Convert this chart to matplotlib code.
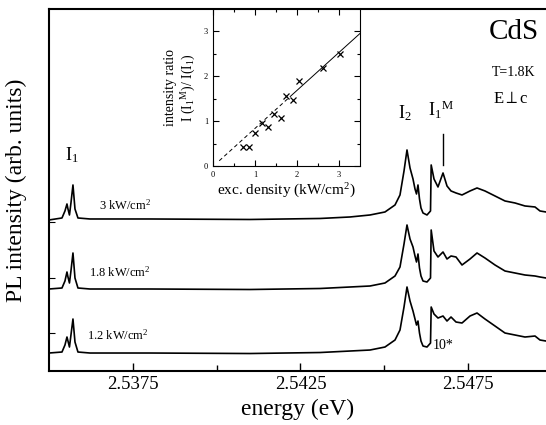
import matplotlib.pyplot as plt
import numpy as np

plt.rcParams['font.family'] = ['Liberation Serif', 'DejaVu Serif']
plt.rcParams['mathtext.fontset'] = 'custom'
plt.rcParams['mathtext.rm'] = 'Liberation Serif'
plt.rcParams['mathtext.it'] = 'Liberation Serif'

# PL spectra (energy in eV, intensity in arb. units, traces already stacked)
energia = [2.534993, 2.535381, 2.535470, 2.535530, 2.535560, 2.535604, 2.535649, 2.535709, 2.535769, 2.535858,
           2.536216, 2.538007, 2.540993, 2.543082, 2.543978, 2.544575, 2.545022, 2.545321, 2.545470, 2.545590,
           2.545679, 2.545769, 2.545858, 2.545918, 2.545963, 2.546007, 2.546052, 2.546097, 2.546157, 2.546276,
           2.546381, 2.546401, 2.546485, 2.546604, 2.546754, 2.546873, 2.546993, 2.547142, 2.547321, 2.547560,
           2.547769, 2.548007, 2.548306, 2.548604, 2.548903, 2.549201, 2.549500, 2.549649, 2.549828]

pl_3kw = [151, 153, 160, 167, 162, 156, 168, 186, 162, 153,
          152, 152, 151.5, 152.5, 154, 156, 159, 166, 176, 200,
          221, 203, 192, 182, 177, 186, 172, 163, 158, 156,
          160, 206, 192, 184, 198, 185, 180, 178, 176, 180,
          183, 180, 175, 170, 168, 165, 164, 160, 159]

pl_18kw = [82, 83, 90, 99, 94, 88, 100, 118, 93, 83,
           82, 82, 81.5, 82.5, 84, 85, 88, 95, 104, 127,
           146, 132, 124, 115, 109, 117, 103, 95, 90, 89,
           93, 141, 120, 114, 119, 112, 115, 114, 106, 112,
           118, 113, 106, 100, 98, 96, 95, 94, 93]

pl_12kw = [18, 19, 26, 34, 30, 24, 36, 52, 29, 19,
           18, 18, 17.5, 18.5, 20, 21, 24, 31, 41, 64,
           84, 70, 60, 52, 46, 50, 38, 30, 25, 24,
           28, 64, 57, 53, 55, 50, 54, 49, 48, 55,
           58, 52, 45, 38, 36, 34, 35, 31, 30]

# inset: intensity ratio vs excitation density
densidade = [0.71, 0.86, 1.0, 1.17, 1.31, 1.46, 1.61, 1.75, 1.91, 2.06, 2.62, 3.02]
razao = [0.43, 0.43, 0.73, 0.97, 0.88, 1.17, 1.08, 1.57, 1.47, 1.89, 2.19, 2.49]
ajuste_x = [0.15, 1.9, 3.5]
ajuste_y = [0.12, 1.6, 2.95]

fig = plt.figure(figsize=(5.46, 4.25), dpi=100)
ax = fig.add_axes([0.0897, 0.127, 0.9103, 0.852])

for pl in [pl_3kw, pl_18kw, pl_12kw]:
    ax.plot(energia, pl, color='black', lw=1.2)

ax.set_xlim(2.534993, 2.549828)
ax.set_ylim(0, 362)
ax.set_xticks([2.5375, 2.5425, 2.5475])
ax.set_xticklabels(['2.5375', '2.5425', '2.5475'])
ax.set_xticks([2.540, 2.545], minor=True)
ax.set_yticks([38, 93, 149])
ax.set_yticklabels([])
ax.tick_params(axis='x', which='major', direction='in', length=6, width=1, labelsize=13.5)
ax.tick_params(axis='y', which='major', direction='in', length=4, width=0.8)
ax.tick_params(axis='both', which='minor', direction='in', length=4, width=1)
ax.spines['right'].set_visible(False)
for s in ['left', 'bottom', 'top']:
    ax.spines[s].set_linewidth(1.5)
ax.set_xlabel('energy (eV)', fontsize=17, labelpad=4)
ax.set_ylabel('PL intensity (arb. units)', fontsize=17, labelpad=12)

# labels
ax.text(2.53568, 216, r'I$_1$', fontsize=13, ha='center', va='center')
ax.text(2.54562, 258, r'I$_2$', fontsize=13, ha='center', va='center')
ax.text(2.54670, 261, r'I$_1$$^{\rm M}$', fontsize=13, ha='center', va='center')
ax.plot([2.546754, 2.546754], [206, 237], color='black', lw=1)
ax.text(2.53726, 166, r'3 kW/cm$^2$', fontsize=9, ha='center', va='center')
ax.text(2.53711, 99, r'1.8 kW/cm$^2$', fontsize=9, ha='center', va='center')
ax.text(2.53705, 36, r'1.2 kW/cm$^2$', fontsize=9, ha='center', va='center')
ax.text(2.54646, 26, '10*', fontsize=10, ha='left', va='center')
ax.text(0.935, 0.935, 'CdS', fontsize=21, ha='center', va='center', transform=ax.transAxes)
ax.text(0.935, 0.825, 'T=1.8K', fontsize=10, ha='center', va='center', transform=ax.transAxes)
ax.text(0.93, 0.75, r'E$\perp$c', fontsize=12, ha='center', va='center', transform=ax.transAxes)

# inset
axi = fig.add_axes([0.390, 0.609, 0.269, 0.370])
axi.plot(densidade, razao, 'x', color='black', ms=5, mew=0.9)
axi.plot(ajuste_x[:2], ajuste_y[:2], color='black', lw=0.7, ls=(0, (4, 3)))
axi.plot(ajuste_x[1:], ajuste_y[1:], color='black', lw=0.7)
axi.set_xlim(0, 3.5)
axi.set_ylim(0, 3.5)
axi.set_xticks([0, 1, 2, 3])
axi.set_yticks([0, 1, 2, 3])
axi.set_xticks([0.5, 1.5, 2.5], minor=True)
axi.set_yticks([0.5, 1.5, 2.5], minor=True)
axi.tick_params(which='both', direction='in', top=True, right=True, labelsize=6, width=0.8)
axi.tick_params(which='major', length=4)
axi.tick_params(which='minor', length=2)
axi.set_xlabel(r'exc. density (kW/cm$^2$)', fontsize=11, labelpad=2)
axi.set_ylabel('intensity ratio\n' + r'I (I$_1$$^{\rm M}$)/ I(I$_1$)', fontsize=10, labelpad=4)

plt.savefig('out.png', dpi=100)
